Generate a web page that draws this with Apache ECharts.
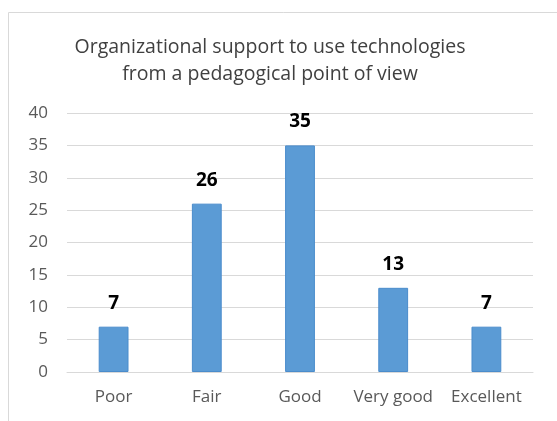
<!DOCTYPE html>
<html>
<head>
<meta charset="utf-8">
<script src="https://cdn.jsdelivr.net/npm/echarts@6/dist/echarts.min.js"></script>
<style>
html,body{margin:0;padding:0;background:#fff;}
#chart{width:557px;height:421px;}
</style>
</head>
<body>
<div id="chart"></div>
<script>
// data
var categories = ['Poor', 'Fair', 'Good', 'Very good', 'Excellent'];
var counts = [7, 26, 35, 13, 7];
var titleLines = ['Organizational support to use technologies', 'from a pedagogical point of view'];

var myChart = echarts.init(document.getElementById('chart'));
var option = {
    animation: false,
    title: {
        text: titleLines.join('\n'),
        left: 265,
        textAlign: 'center',
        top: 29,
        textStyle: {
            fontFamily: 'Open Sans',
            fontSize: 19.5,
            fontWeight: 'normal',
            color: '#404040',
            lineHeight: 27
        }
    },
    graphic: [{
        type: 'rect',
        shape: {x: 8.5, y: 12.5, width: 560, height: 420},
        style: {fill: 'none', stroke: '#d9d9d9', lineWidth: 1},
        silent: true
    }],
    grid: {left: 67, right: 24, top: 113, bottom: 49},
    xAxis: {
        type: 'category',
        data: categories,
        axisLine: {lineStyle: {color: '#d9d9d9'}},
        axisTick: {show: false},
        axisLabel: {
            interval: 0,
            hideOverlap: false,
            color: '#595959',
            fontFamily: 'Open Sans',
            fontSize: 17,
            margin: 17
        }
    },
    yAxis: {
        type: 'value',
        min: 0,
        max: 40,
        interval: 5,
        axisLine: {show: false},
        axisTick: {show: false},
        splitLine: {lineStyle: {color: '#d9d9d9'}},
        axisLabel: {
            color: '#595959',
            fontFamily: 'Open Sans',
            fontSize: 17,
            margin: 19
        }
    },
    series: [{
        type: 'bar',
        data: counts,
        barWidth: '32%',
        itemStyle: {color: '#5b9bd5', borderColor: '#4a8ccc', borderWidth: 1},
        label: {
            show: true,
            position: 'top',
            distance: 14,
            color: '#000',
            fontFamily: 'Open Sans',
            fontWeight: 'bold',
            fontSize: 19
        }
    }]
};
myChart.setOption(option);
</script>
</body>
</html>
